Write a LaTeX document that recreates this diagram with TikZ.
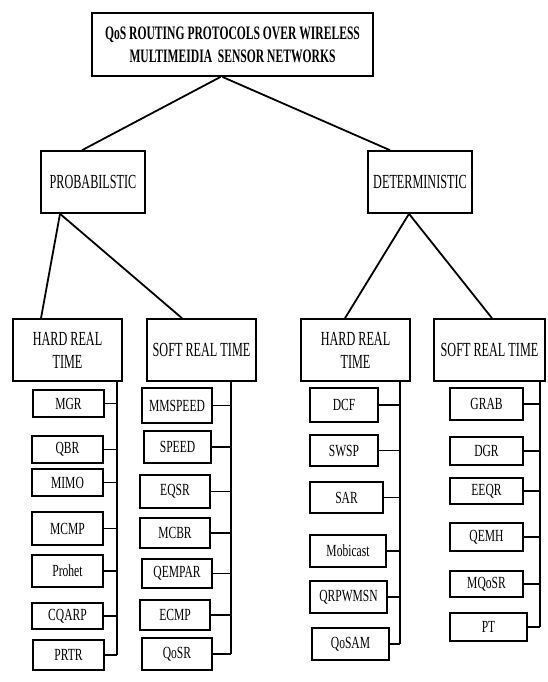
\documentclass[tikz,border=0pt]{standalone}
\usepackage{fontspec}
\setmainfont{Liberation Serif}
\newfontfamily\condfont[FakeStretch=0.61]{Liberation Serif}
\newfontfamily\leaffont[FakeStretch=0.68]{Liberation Serif}
\usetikzlibrary{positioning,calc}

\begin{document}
\begin{tikzpicture}[
    x=1pt, y=-1pt,
    box/.style={draw, line width=1.6pt, inner sep=0pt, align=center,
        font=\condfont\fontsize{20}{23}\selectfont},
    rootbox/.style={box, line width=1.9pt, font=\condfont\bfseries\fontsize{19}{23}\selectfont},
    leaf/.style={draw, line width=1.9pt, inner sep=0pt, font=\leaffont\fontsize{17}{20}\selectfont},
    link/.style={line width=1.8pt}
  ]
  \useasboundingbox (0,0) rectangle (547,682);

  \node[rootbox, minimum width=281pt, minimum height=63pt] (root) at (232.5,44.5)
      {QoS ROUTING PROTOCOLS OVER WIRELESS\\MULTIMEIDIA\ \ SENSOR NETWORKS};

  \node[box, minimum width=104pt, minimum height=62pt] (prob) at (93,182) {PROBABILSTIC};
  \node[box, minimum width=104pt, minimum height=62pt] (det) at (420,182) {DETERMINISTIC};

  \node[box, minimum width=109pt, minimum height=62pt] (phard) at (67.5,350) {HARD REAL\\TIME};
  \node[box, minimum width=109pt, minimum height=62pt] (psoft) at (201.5,350) {SOFT REAL TIME};
  \node[box, minimum width=109pt, minimum height=62pt] (dhard) at (355.5,350) {HARD REAL\\TIME};
  \node[box, minimum width=111pt, minimum height=62pt] (dsoft) at (489.5,350) {SOFT REAL TIME};

  \draw[link] ([xshift=-12pt]root.south) -- ([xshift=-11pt]prob.north);
  \draw[link] ([xshift=-10pt]root.south) -- ([xshift=-30pt]det.north);
  \draw[link] ([xshift=-33pt]prob.south) -- ([xshift=-26.5pt]phard.north);
  \draw[link] ([xshift=-33pt]prob.south) -- ([xshift=-19.5pt]psoft.north);
  \draw[link] ([xshift=-11pt]det.south) -- ([xshift=-10.5pt]dhard.north);
  \draw[link] ([xshift=-11pt]det.south) -- ([xshift=2.5pt]dsoft.north);

  % bus lines under each class
  \coordinate (phbus) at (117,381);
  \coordinate (psbus) at (231,381);
  \coordinate (dhbus) at (400,381);
  \coordinate (dsbus) at (540,381);

  % probabilistic, hard real time
  \foreach \n/\t/\cx/\cy/\w/\h in {mgr/MGR/68.5/403.5/71/27, qbr/QBR/67.5/449.5/71/27,
      mimo/MIMO/67.5/482.5/71/27, mcmp/MCMP/67.5/528.5/71/33, prohet/Prohet/67.5/571/71/32,
      cqarp/CQARP/67.5/616/71/26, prtr/PRTR/68.5/655/71/30}{
    \node[leaf, minimum width=\w pt, minimum height=\h pt] (\n) at (\cx,\cy) {\t};
    \draw[link] (\n.east) -- (\n.east -| phbus);
  }
  \draw[link] (phbus) -- (phbus |- prtr.east);

  % probabilistic, soft real time
  \foreach \n/\t/\cx/\cy/\w/\h in {mmspeed/MMSPEED/177/405.5/70/35, speed/SPEED/177.5/447/67/32,
      eqsr/EQSR/175/491.5/70/33, mcbr/MCBR/175/533/70/30, qempar/QEMPAR/177/573.5/70/29,
      ecmp/ECMP/175/615/70/30, qosr/QoSR/177/654/70/32}{
    \node[leaf, minimum width=\w pt, minimum height=\h pt] (\n) at (\cx,\cy) {\t};
    \draw[link] (\n.east) -- (\n.east -| psbus);
  }
  \draw[link] (psbus) -- (psbus |- qosr.east);

  % deterministic, hard real time
  \foreach \n/\t/\cx/\cy/\w/\h in {dcf/DCF/344/405/68/34, swsp/SWSP/344/450.5/68/31,
      sar/SAR/346.5/497.5/73/31, mobicast/Mobicast/348/551/76/32,
      qrpwmsn/QRPWMSN/348.5/597/77/32, qosam/QoSAM/350.5/644/77/32}{
    \node[leaf, minimum width=\w pt, minimum height=\h pt] (\n) at (\cx,\cy) {\t};
    \draw[link] (\n.east) -- (\n.east -| dhbus);
  }
  \draw[link] (dhbus) -- (dhbus |- qosam.east);

  % deterministic, soft real time
  \foreach \n/\t/\cx/\cy/\w/\h in {grab/GRAB/486.5/404/73/32, dgr/DGR/486.5/451/73/28,
      eeqr/EEQR/486.5/491/73/26, qemh/QEMH/486.5/537/73/28, mqosr/MQoSR/486.5/584/73/26,
      pt/PT/488.5/627/77/28}{
    \node[leaf, minimum width=\w pt, minimum height=\h pt] (\n) at (\cx,\cy) {\t};
    \draw[link] (\n.east) -- (\n.east -| dsbus);
  }
  \draw[link] (dsbus) -- (dsbus |- pt.east);
\end{tikzpicture}
\end{document}
